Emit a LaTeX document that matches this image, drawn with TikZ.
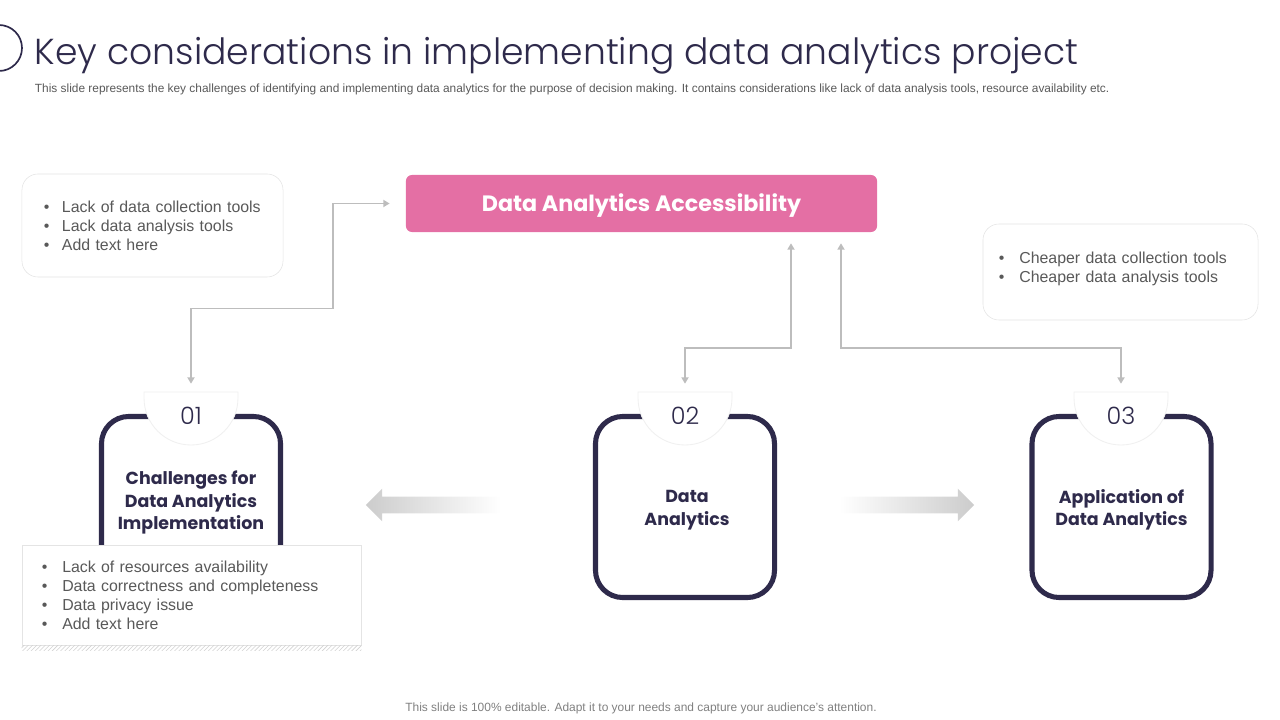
\documentclass[tikz,border=0pt]{standalone}
\usepackage{fontspec}
\setmainfont{Liberation Sans}
\newfontfamily\gothic{Poppins}
\newfontfamily\gothiclight{Poppins Light}
\usepackage{tikz}
\usetikzlibrary{arrows.meta,calc,shapes.arrows,patterns}
\definecolor{navy}{HTML}{2E2A4B}
\definecolor{rose}{HTML}{E46FA4}
\definecolor{wire}{HTML}{BDBDBD}
\definecolor{ink}{HTML}{595959}
\definecolor{frame}{HTML}{E4E4E4}
\newcommand{\itm}[1][0.45cm]{\makebox[#1][l]{\textbullet}}

\begin{document}
\begin{tikzpicture}[x=0.025cm,y=-0.025cm,note/.style={draw=frame,fill=white,rounded corners=0.4cm,align=left,text=ink,font=\fontsize{11.3pt}{13.5pt}\selectfont},card/.style={draw=navy,line width=3.6pt,fill=white,rounded corners=0.68cm,minimum width=4.475cm,minimum height=4.525cm},cardtxt/.style={align=center,text=navy,font=\gothic\bfseries\fontsize{12.4pt}{16pt}\selectfont},tab/.style={fill=white,draw=gray!12,line width=0.6pt},tabnum/.style={minimum height=1.2cm,text=navy,font=\gothiclight\fontsize{17pt}{19pt}\selectfont},link/.style={draw=wire,line width=1.4pt,{Triangle[length=4.5pt,width=5pt]}-{Triangle[length=4.5pt,width=5pt]},shorten <=0.2cm,shorten >=0.2cm},flow/.style={single arrow,single arrow head extend=0.2cm,single arrow head indent=0pt,inner sep=0.2cm,minimum width=0.8cm}]
\useasboundingbox (0,0) rectangle (1280,720);
\draw[navy,line width=1.2pt] (-1,48) circle (23);
\node[anchor=base west,text=navy,font=\gothiclight\fontsize{25.7pt}{29pt}\selectfont] (title) at (30,65) {Key considerations in implementing data analytics project};
\node[anchor=west,text=ink,font=\fontsize{8.45pt}{9pt}\selectfont] (sub) at (30,89) {This slide represents the key challenges of identifying and implementing data analytics for the purpose of decision making. It contains considerations like lack of data analysis tools, resource availability etc.};
\node[note,text width=5.425cm,inner xsep=0.55cm,minimum height=2.575cm] (tools) at (152.5,225.5) {\itm Lack of data collection tools\\\itm Lack data analysis tools\\\itm Add text here};
\node[draw=none,fill=rose,rounded corners=0.15cm,minimum width=11.775cm,minimum height=1.425cm,text height=15pt,text depth=4pt,text=white,font=\gothic\bfseries\fontsize{15.8pt}{19pt}\selectfont] (acc) at (641.5,203.5) {Data Analytics Accessibility};
\node[note,text width=6.075cm,inner xsep=0.4cm,minimum height=2.4cm] (cheap) at (1120.5,272) {\itm[0.375cm] Cheaper data collection tools\\\itm[0.375cm] Cheaper data analysis tools\\[-7pt]\mbox{}};
\node[card] (card1) at (191,507) {};
\node[card] (card2) at (685,507) {};
\node[card] (card3) at (1121.5,507) {};
\path[tab] (144,392) -- (144,398) arc (180:0:47) -- (238,392) -- cycle;
\path[tab] (638,392) -- (638,398) arc (180:0:47) -- (732,392) -- cycle;
\path[tab] (1074,392) -- (1074,398) arc (180:0:47) -- (1168,392) -- cycle;
\node[tabnum] (n1) at (191,416) {01};
\node[tabnum] (n2) at (685,416) {02};
\node[tabnum] (n3) at (1121,416) {03};
\node[cardtxt] (lbl1) at (191,502.5) {Challenges for\\Data Analytics\\Implementation};
\node[cardtxt] (lbl2) at (687,510) {Data\\Analytics};
\node[cardtxt] (lbl3) at (1121.5,510) {Application of\\Data Analytics};
\node[note,rounded corners=0pt,text width=7.475cm,inner xsep=0.5cm,minimum height=2.5cm] (res) at (191.5,595) {\itm[0.375cm] Lack of resources availability\\\itm[0.375cm] Data correctness and completeness\\\itm[0.375cm] Data privacy issue\\\itm[0.375cm] Add text here};
\fill[pattern=north east lines,pattern color=gray!35] (res.south west) rectangle ($(res.south east)+(0,5)$);
\node[flow,minimum height=3.375cm,left color=gray!40,right color=white,shape border rotate=180] (back) at (437.5,505) {};
\node[flow,minimum height=3.375cm,left color=white,right color=gray!40] (fwd) at (902.5,505) {};
\draw[link,shorten <=0.4cm] (acc.west) -- ++(-73,0) -- ++(0,105) -| (n1.north);
\draw[link,shorten >=0.275cm] (n2.north) -- ++(0,-44) -| ($(acc.south)+(149.5,0)$);
\draw[link,shorten >=0.275cm] (n3.north) -- ++(0,-44) -| ($(acc.south)+(199.5,0)$);
\node[text=gray,font=\fontsize{8.5pt}{10pt}\selectfont] (foot) at (641,708) {This slide is 100\% editable. Adapt it to your needs and capture your audience's attention.};
\end{tikzpicture}
\end{document}
